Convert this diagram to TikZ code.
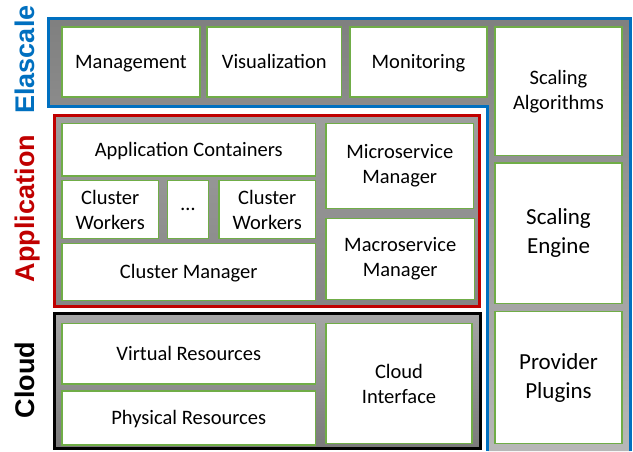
\documentclass[tikz,border=0pt]{standalone}
\usepackage{fontspec}
\setmainfont{Carlito}
\newfontfamily\layerfont{Liberation Sans}
\usepackage{xcolor}
\usepackage{tikz}
\usetikzlibrary{calc, math}
\definecolor{elascalecolor}{RGB}{0,112,192}
\definecolor{applicationcolor}{RGB}{192,0,0}
\definecolor{modulecolor}{RGB}{112,173,71}

\tikzset{
  module/.style={draw=modulecolor, fill=white, line width=1.3pt, inner sep=0pt, align=center,
    font=\fontsize{20.5}{25}\selectfont},
  oneline/.style={module, text height=16pt, text depth=3.4pt},
  bigmodule/.style={module, font=\fontsize{23}{29}\selectfont},
  layerlabel/.style={rotate=90, anchor=base, inner sep=0pt,
    font=\layerfont\bfseries\fontsize{27}{27}\selectfont},
  frame/.style={line width=3pt},
}

\begin{document}
\begin{tikzpicture}[x=1pt, y=-1pt]
  \tikzmath{
    \xmin=48.8;
    \xmax=630.5;
    \ymin=18.8;
    \ymax=451;
    \xcol=487.8;
    \ybar=106.5;
  }
  \useasboundingbox (0, 0) rectangle (633, 451);

  % Elascale layer (L-shaped, open at the bottom)
  \shade[top color=black!50, bottom color=black!28] (\xmin, \ymin) -- (\xmax, \ymin) -- (\xmax, \ymax) -- (\xcol, \ymax) -- (\xcol, \ybar) -- (\xmin, \ybar) -- cycle;
  \draw[frame, color=elascalecolor] (\xcol, \ymax) -- (\xcol, \ybar) -- (\xmin, \ybar) -- (\xmin, \ymin) -- (\xmax, \ymin) -- (\xmax, \ymax);

  % Application and cloud layers
  \draw[frame, color=applicationcolor, top color=black!38, bottom color=black!48] (54.2, 115.5) rectangle (479.2, 306.5);
  \draw[frame, color=black, top color=black!35, bottom color=black!52] (54.2, 313.2) rectangle (480, 448);

  \node[layerlabel, text=elascalecolor] (elascale) at (34.3, 59.5) {Elascale};
  \node[layerlabel, text=applicationcolor] (application) at (34.3, 208.5) {Application};
  \node[layerlabel, text=black] (cloud) at (34.3, 380) {Cloud};

  % Elascale modules
  \node[oneline, minimum width=138pt, minimum height=70pt] (management) at (131, 62) {Management};
  \node[oneline, minimum width=134.5pt, minimum height=70pt] (visualization) at (274.25, 62) {Visualization};
  \node[oneline, minimum width=137pt, minimum height=70pt] (monitoring) at (418.5, 62) {Monitoring};
  \node[module, minimum width=127pt, minimum height=128.5pt] (algorithms) at (558.5, 91.25) {Scaling\\Algorithms};
  \node[bigmodule, minimum width=127pt, minimum height=140.5pt] (engine) at (558.5, 233.25) {Scaling\\Engine};
  \node[bigmodule, minimum width=127pt, minimum height=132pt] (plugins) at (558.5, 377.5) {Provider\\Plugins};

  % Application modules
  \node[oneline, minimum width=253.5pt, minimum height=52.5pt] (containers) at (188.75, 149.75) {Application Containers};
  \node[module, minimum width=96.5pt, minimum height=58pt] (workersa) at (110.25, 209.5) {Cluster\\Workers};
  \node[module, minimum width=41pt, minimum height=58pt] (workersdots) at (188, 209.5) {\dots};
  \node[module, minimum width=96.5pt, minimum height=58pt] (workersb) at (267.25, 209.5) {Cluster\\Workers};
  \node[oneline, minimum width=253.5pt, minimum height=57pt] (clustermanager) at (188.75, 272) {Cluster Manager};
  \node[module, minimum width=147.5pt, minimum height=85pt] (micromanager) at (399.75, 166) {Microservice\\Manager};
  \node[module, minimum width=148.5pt, minimum height=81pt] (macromanager) at (400.25, 259) {Macroservice\\Manager};

  % Cloud modules
  \node[oneline, minimum width=253.5pt, minimum height=60.5pt] (virtual) at (188.75, 353.75) {Virtual Resources};
  \node[oneline, minimum width=253.5pt, minimum height=54pt] (physical) at (188.75, 418) {Physical Resources};
  \node[module, minimum width=146pt, minimum height=120pt] (interface) at (399, 383.5) {Cloud\\Interface};
\end{tikzpicture}
\end{document}
